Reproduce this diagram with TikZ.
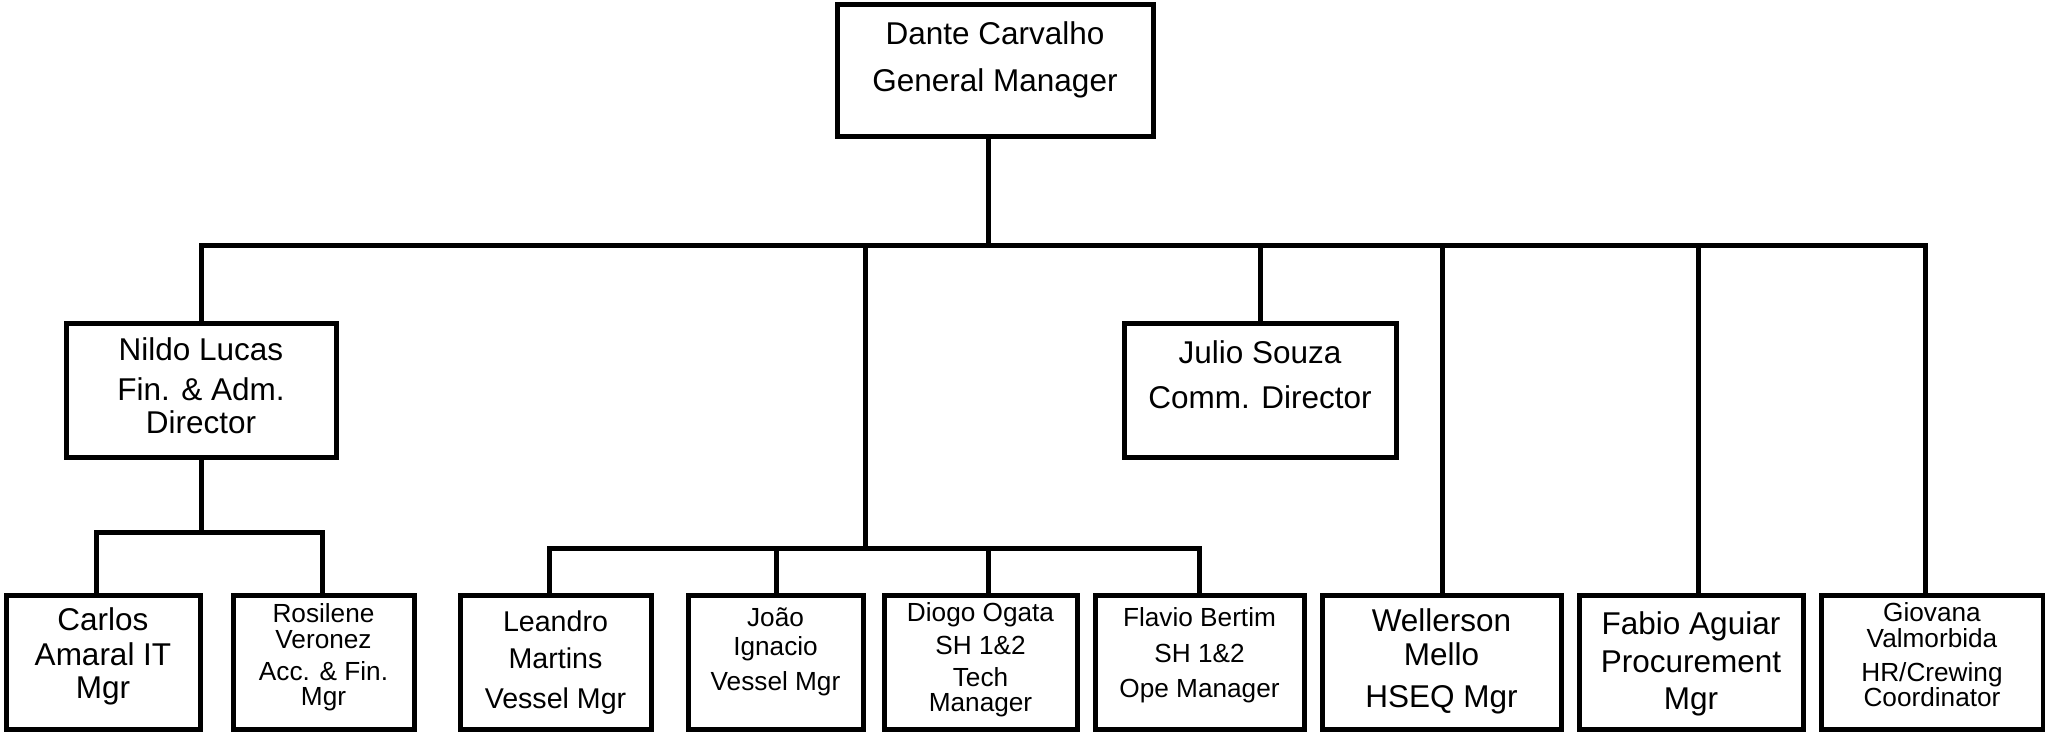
\documentclass[tikz,border=0pt]{standalone}
\usepackage{fontspec}
\setmainfont{Liberation Sans}
\newcommand{\orgtext}[1]{\vtop{\baselineskip=0pt\lineskip=0pt\lineskiplimit=-1000pt\halign{\hfil##\hfil\cr#1\crcr}}}
\newcommand{\orgnl}[1]{\cr\noalign{\kern#1}}
\begin{document}
\begin{tikzpicture}[x=1pt,y=-1pt,
  box/.style={draw, line width=5pt, rectangle, inner sep=0pt, outer sep=0pt, line join=miter},
  txt/.style={anchor=base, inner sep=0pt},
  bigf/.style={font=\fontsize{31.5pt}{36pt}\selectfont},
  midf/.style={font=\fontsize{28.6pt}{33pt}\selectfont},
  smallf/.style={font=\fontsize{26.2pt}{30pt}\selectfont},
  wire/.style={line width=5pt, line join=miter}]
\useasboundingbox (0,0) rectangle (2045,735);
% boxes
\node[box, minimum width=316pt, minimum height=132pt] (dante) at (995,71) {};
\node[box, minimum width=270pt, minimum height=134pt] (nildo) at (201,390) {};
\node[box, minimum width=272pt, minimum height=134pt] (julio) at (1260,390) {};
\node[box, minimum width=194pt, minimum height=134pt] (carlos) at (103,662) {};
\node[box, minimum width=181pt, minimum height=134pt] (rosilene) at (323.5,662) {};
\node[box, minimum width=191pt, minimum height=134pt] (leandro) at (555.5,662) {};
\node[box, minimum width=175pt, minimum height=134pt] (joao) at (775.5,662) {};
\node[box, minimum width=193pt, minimum height=134pt] (diogo) at (980.5,662) {};
\node[box, minimum width=209pt, minimum height=134pt] (flavio) at (1199.5,662) {};
\node[box, minimum width=239pt, minimum height=134pt] (wellerson) at (1441.5,662) {};
\node[box, minimum width=224pt, minimum height=134pt] (fabio) at (1691,662) {};
\node[box, minimum width=222pt, minimum height=134pt] (giovana) at (1932,662) {};
% texts
\node[txt,bigf] (t-dante) at (995,45) {\orgtext{Dante Carvalho\orgnl{47pt}General Manager}};
\node[txt,bigf] (t-nildo) at (201,360) {\orgtext{Nildo Lucas\orgnl{40pt}Fin. \& Adm.\orgnl{33pt}Director}};
\node[txt,bigf] (t-julio) at (1260,363) {\orgtext{Julio Souza\orgnl{45pt}Comm. Director}};
\node[txt,bigf] (t-carlos) at (103,630) {\orgtext{Carlos\orgnl{35pt}Amaral IT\orgnl{33pt}Mgr}};
\node[txt,smallf] (t-rosilene) at (323.5,622) {\orgtext{Rosilene\orgnl{26pt}Veronez\orgnl{32pt}Acc. \& Fin.\orgnl{25pt}Mgr}};
\node[txt,midf] (t-leandro) at (555.5,631) {\orgtext{Leandro\orgnl{37pt}Martins\orgnl{40pt}Vessel Mgr}};
\node[txt,smallf] (t-joao) at (775.5,626) {\orgtext{João\orgnl{29pt}Ignacio\orgnl{35pt}Vessel Mgr}};
\node[txt,smallf] (t-diogo) at (980.5,621) {\orgtext{Diogo Ogata\orgnl{33pt}SH 1\&2\orgnl{32pt}Tech\orgnl{25pt}Manager}};
\node[txt,smallf] (t-flavio) at (1199.5,626) {\orgtext{Flavio Bertim\orgnl{36pt}SH 1\&2\orgnl{35pt}Ope Manager}};
\node[txt,bigf] (t-wellerson) at (1441.5,631) {\orgtext{Wellerson\orgnl{34pt}Mello\orgnl{42pt}HSEQ Mgr}};
\node[txt,bigf] (t-fabio) at (1691,634) {\orgtext{Fabio Aguiar\orgnl{38pt}Procurement\orgnl{37pt}Mgr}};
\node[txt,smallf] (t-giovana) at (1932,621) {\orgtext{Giovana\orgnl{26pt}Valmorbida\orgnl{34pt}HR/Crewing\orgnl{25pt}Coordinator}};
% junction coordinates
\coordinate (bL) at (201,246);
\coordinate (bR) at (1925,246);
\coordinate (jD) at (988,246);
\coordinate (jM) at (865,246);
\coordinate (jJ) at (1260,246);
\coordinate (jW) at (1442,246);
\coordinate (jF) at (1698,246);
\coordinate (vM) at (865,548);
\coordinate (vL) at (549,548);
\coordinate (vJ) at (776,548);
\coordinate (vD) at (988,548);
\coordinate (vR) at (1199,548);
\coordinate (nM) at (201,532);
\coordinate (nL) at (96,532);
\coordinate (nR) at (322,532);
% connectors
\draw[wire] (nildo.north) -- (bL) -- (bR) -- (giovana.north -| bR);
\draw[wire] (dante.south -| jD) -- (jD);
\draw[wire] (jJ) -- (julio.north);
\draw[wire] (jW) -- (wellerson.north -| jW);
\draw[wire] (jF) -- (fabio.north -| jF);
\draw[wire] (jM) -- (vM);
\draw[wire] (leandro.north -| vL) -- (vL) -- (vR) -- (flavio.north -| vR);
\draw[wire] (vJ) -- (joao.north -| vJ);
\draw[wire] (vD) -- (diogo.north -| vD);
\draw[wire] (nildo.south) -- (nM);
\draw[wire] (carlos.north -| nL) -- (nL) -- (nR) -- (rosilene.north -| nR);
\end{tikzpicture}
\end{document}
